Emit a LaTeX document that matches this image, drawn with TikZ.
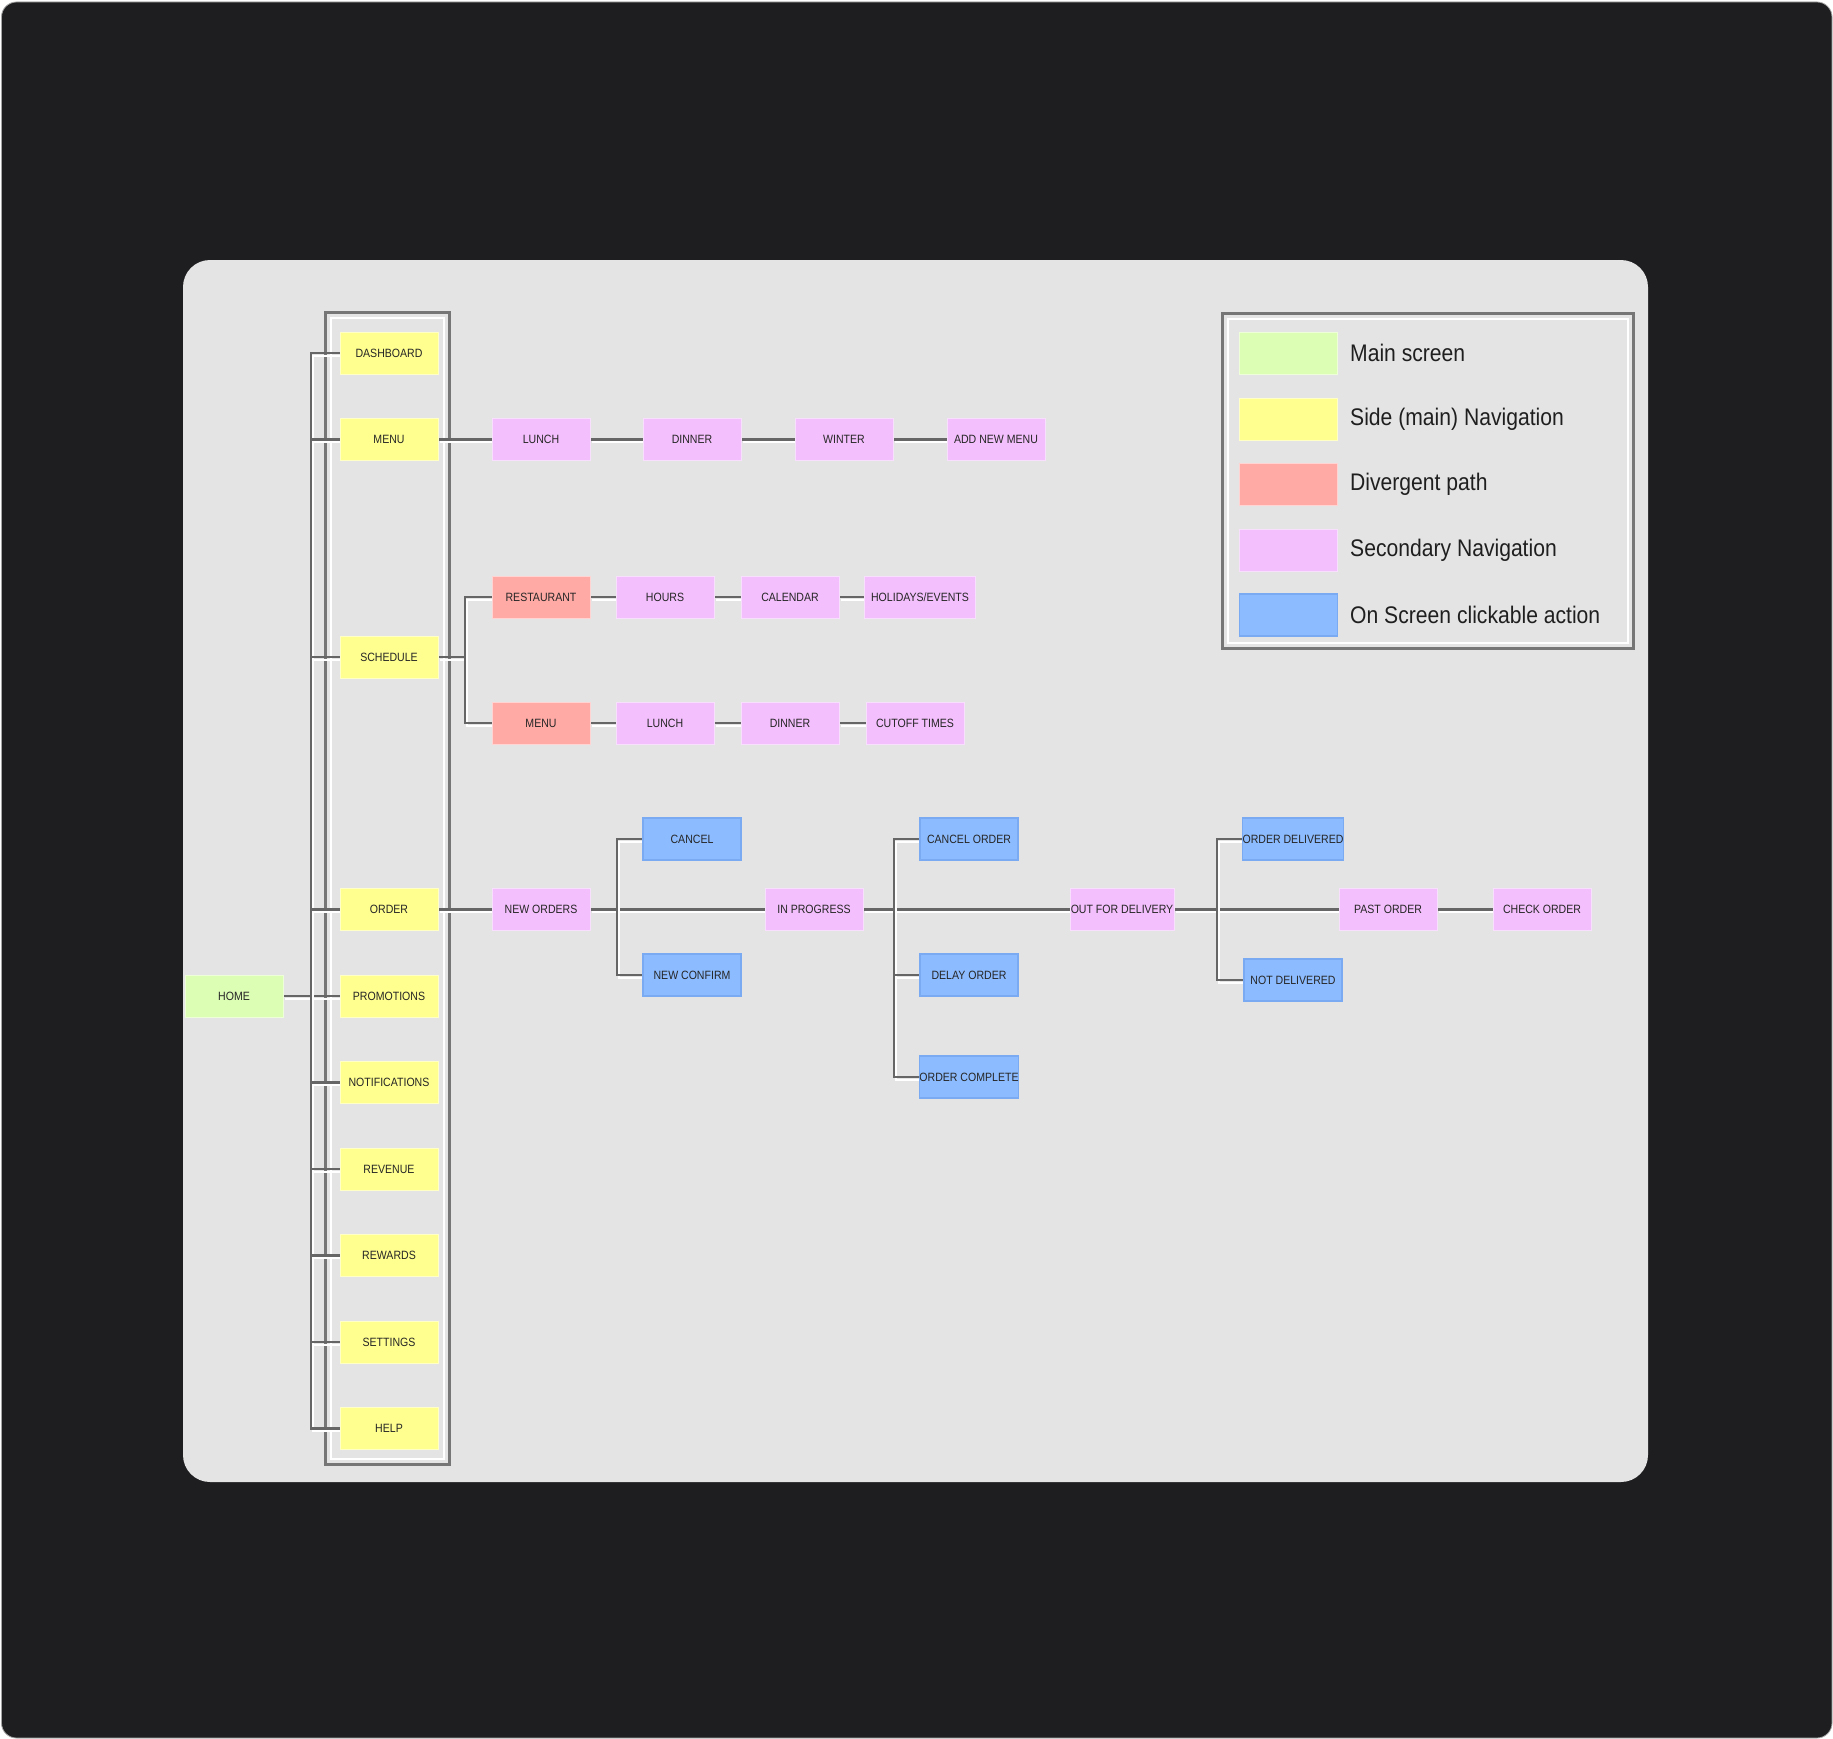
\documentclass[tikz,border=0pt]{standalone}
\usepackage{fontspec}
\newfontfamily\boxfont[FakeStretch=0.88]{Liberation Sans}
\definecolor{darkbg}{HTML}{1E1E20}
\definecolor{panel}{HTML}{E4E4E4}
\definecolor{cmain}{HTML}{DCFDB4}
\definecolor{cnav}{HTML}{FFFF90}
\definecolor{cdiv}{HTML}{FFAAA5}
\definecolor{csec}{HTML}{F3BFFC}
\definecolor{cact}{HTML}{8CBCFF}
\definecolor{cactb}{HTML}{7AAAF2}
\definecolor{lgray}{HTML}{666666}
\definecolor{fgray}{HTML}{767676}
\definecolor{txt}{HTML}{262626}
\pgfdeclarelayer{bg}
\pgfdeclarelayer{lines}
\pgfsetlayers{bg,lines,main}
\begin{document}
\begin{tikzpicture}[x=1pt,y=-1pt,
  basebox/.style={rectangle, minimum width=98pt, minimum height=42pt, inner sep=0pt,
    font=\boxfont\fontsize{12}{12}\selectfont, text=txt, line width=0.8pt},
  mainbox/.style={basebox, fill=cmain, draw=cmain!50!white},
  navbox/.style={basebox, fill=cnav, draw=cnav!50!white},
  divbox/.style={basebox, fill=cdiv, draw=cdiv!50!white},
  secbox/.style={basebox, fill=csec, draw=csec!50!white},
  actbox/.style={basebox, fill=cact, draw=cactb, line width=1.4pt},
  conn/.style={draw=lgray, line width=2.2pt,
    preaction={draw=white, line width=2pt, transform canvas={shift={(2pt,-2.5pt)}}}},
  frameline/.style={draw=fgray, line width=3pt},
  frameinner/.style={draw=white, line width=2pt},
  legtext/.style={anchor=west, inner sep=0pt, font=\boxfont\fontsize{24}{24}\selectfont, text=black!88}
]
\useasboundingbox (0,0) rectangle (1833,1739);
\begin{pgfonlayer}{bg}
  \fill[white] (0,0) rectangle (1833,1739);
  \draw[fill=darkbg, draw=gray!70, line width=0.8pt, rounded corners=15pt] (1.5,2) rectangle (1832,1738);
  \fill[panel, rounded corners=27pt] (183,260) rectangle (1648,1482);
\end{pgfonlayer}

% side navigation column
\node[mainbox] (home) at (234,996) {HOME};
\node[navbox] (dash) at (389,353) {DASHBOARD};
\node[navbox] (menu) at (389,439.5) {MENU};
\node[navbox] (sched) at (389,657) {SCHEDULE};
\node[navbox] (order) at (389,909.5) {ORDER};
\node[navbox] (promo) at (389,996) {PROMOTIONS};
\node[navbox] (notif) at (389,1082.5) {NOTIFICATIONS};
\node[navbox] (rev) at (389,1169) {REVENUE};
\node[navbox] (rew) at (389,1255.5) {REWARDS};
\node[navbox] (sett) at (389,1342) {SETTINGS};
\node[navbox] (help) at (389,1428.5) {HELP};

% menu row
\node[secbox] (m1) at (541,439.5) {LUNCH};
\node[secbox] (m2) at (692,439.5) {DINNER};
\node[secbox] (m3) at (844,439.5) {WINTER};
\node[secbox] (m4) at (996,439.5) {ADD NEW MENU};

% schedule rows
\node[divbox] (rest) at (541,597) {RESTAURANT};
\node[secbox] (hours) at (665,597) {HOURS};
\node[secbox] (cal) at (790,597) {CALENDAR};
\node[secbox, minimum width=111pt] (hol) at (920,597) {HOLIDAYS/EVENTS};
\node[divbox] (smenu) at (541,723) {MENU};
\node[secbox] (slunch) at (665,723) {LUNCH};
\node[secbox] (sdin) at (790,723) {DINNER};
\node[secbox] (cutoff) at (915,723) {CUTOFF TIMES};

% order flow
\node[secbox] (nord) at (541,909.5) {NEW ORDERS};
\node[actbox] (cancel) at (692,839) {CANCEL};
\node[actbox] (nconf) at (692,975) {NEW CONFIRM};
\node[secbox] (inprog) at (814,909.5) {IN PROGRESS};
\node[actbox] (corder) at (969,839) {CANCEL ORDER};
\node[actbox] (delay) at (969,975) {DELAY ORDER};
\node[actbox] (ocomp) at (969,1077) {ORDER COMPLETE};
\node[secbox, minimum width=104pt] (out) at (1122,909.5) {OUT FOR DELIVERY};
\node[actbox] (odel) at (1293,839) {ORDER DELIVERED};
\node[actbox] (ndel) at (1293,980) {NOT DELIVERED};
\node[secbox] (past) at (1388,909.5) {PAST ORDER};
\node[secbox] (check) at (1542,909.5) {CHECK ORDER};

% legend
\node[mainbox] (l1) at (1288.5,353) {};
\node[navbox] (l2) at (1288.5,419) {};
\node[divbox] (l3) at (1288.5,484) {};
\node[secbox] (l4) at (1288.5,550) {};
\node[actbox] (l5) at (1288.5,615) {};
\node[legtext] (t1) at (1350,353) {Main screen};
\node[legtext] (t2) at (1350,419) {Side (main) Navigation};
\node[legtext] (t3) at (1350,484) {Divergent path};
\node[legtext] (t4) at (1350,550) {Secondary Navigation};
\node[legtext] (t5) at (1350,615) {On Screen clickable action};

\coordinate (bus) at (311,0);
\coordinate (sb) at (465,0);
\coordinate (b1) at (617,0);
\coordinate (b2) at (894,0);
\coordinate (b3) at (1217,0);

\begin{pgfonlayer}{lines}
  % frames
  \draw[frameline] (325,312) rectangle (449,1464);
  \draw[frameinner] (330.5,317.5) rectangle (443.5,1458.5);
  \draw[frameline] (1222,313) rectangle (1633,648);
  \draw[frameinner] (1227.5,318.5) rectangle (1627.5,642.5);
  % home and bus
  \draw[conn] (home.east) -- (promo.west);
  \draw[conn] (dash.west) -- (dash.west -| bus) -- (help.west -| bus) -- (help.west);
  \foreach \n in {menu,sched,order,notif,rev,rew,sett}
    \draw[conn] (\n.west -| bus) -- (\n.west);
  % menu row
  \draw[conn] (menu) -- (m1) -- (m2) -- (m3) -- (m4);
  % schedule
  \draw[conn] (sched.east) -- (sched.east -| sb);
  \draw[conn] (rest.west) -- (rest.west -| sb) -- (smenu.west -| sb) -- (smenu.west);
  \draw[conn] (rest) -- (hours) -- (cal) -- (hol);
  \draw[conn] (smenu) -- (slunch) -- (sdin) -- (cutoff);
  % order flow
  \draw[conn] (order) -- (nord) -- (inprog) -- (out) -- (past) -- (check);
  \draw[conn] (cancel.west) -- (cancel.west -| b1) -- (nconf.west -| b1) -- (nconf.west);
  \draw[conn] (corder.west) -- (corder.west -| b2) -- (ocomp.west -| b2) -- (ocomp.west);
  \draw[conn] (delay.west -| b2) -- (delay.west);
  \draw[conn] (odel.west) -- (odel.west -| b3) -- (ndel.west -| b3) -- (ndel.west);
\end{pgfonlayer}
\end{tikzpicture}
\end{document}
